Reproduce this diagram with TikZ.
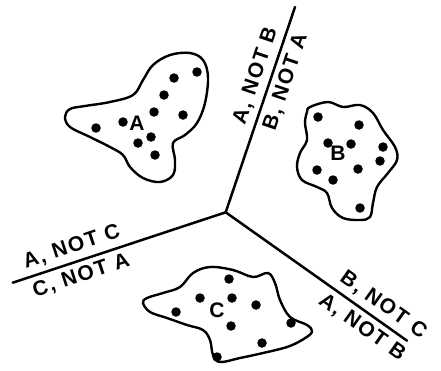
\documentclass[tikz,border=0pt]{standalone}
\usepackage{fontspec}
\setmainfont{Liberation Sans}
\newfontfamily\regionfont[LetterSpace=8]{Liberation Sans}
\usetikzlibrary{calc}
\tikzset{
    divider/.style={line width=2.5pt, line cap=round},
    blob/.style={line width=2.4pt, line join=round},
    dot/.style={circle, fill=black, inner sep=0pt, minimum size=9.5pt},
    region/.style={font=\regionfont\bfseries\fontsize{21}{21}\selectfont, sloped, inner sep=5pt},
    blobname/.style={font=\bfseries\fontsize{21}{21}\selectfont, inner sep=0pt}
}
\begin{document}
\begin{tikzpicture}[x=1pt, y=-1pt]
            \useasboundingbox (0,0) rectangle (441,370);

            \coordinate (hub) at (225.7,212.3);
            \coordinate (north) at (295,7);
            \coordinate (west) at (12.7,282.7);
            \coordinate (east) at (407,340.7);

            \draw[divider] (hub) -- node[region, above, pos=0.64] (ab) {A, NOT B}
                                    node[region, below, pos=0.66] (ba) {B, NOT A} (north);
            \draw[divider] (west) -- node[region, above, pos=0.30] (ac) {A, NOT C}
                                     node[region, below, pos=0.30] (ca) {C, NOT A} (hub);
            \draw[divider] (hub) -- node[region, above, pos=0.82] (bc) {B, NOT C}
                                    node[region, below, pos=0.80] (ab2) {A, NOT B} (east);

            % cluster A
            \draw[blob] plot[smooth cycle, tension=0.6] coordinates {
                (65,117) (70,109) (85,106) (110,102) (133,95) (143,80) (153,65)
                (170,55) (190,53) (203,60) (208,77) (205,103) (197,123) (185,135)
                (173,143) (175,160) (173,175) (160,182) (143,178) (130,167)
                (123,155) (110,147) (90,137) (70,127)};
            \foreach \p [count=\i] in {(197,72),(174,78),(164,95),(183,115),(154,112),
                                       (123,122),(96,128),(151,137),(138,143),(155,155)}
                \node[dot] (a\i) at \p {};
            \node[blobname] (nameA) at (137,123) {A};

            % cluster B
            \draw[blob] plot[smooth cycle, tension=0.6] coordinates {
                (310,107) (328,102) (343,107) (360,105) (373,113) (383,130)
                (395,147) (397,160) (388,173) (377,187) (373,203) (370,217)
                (360,220) (343,218) (332,208) (327,193) (317,187) (302,180)
                (297,167) (300,153) (307,140) (305,123) (307,112)};
            \foreach \p [count=\i] in {(318,117),(359,125),(328,143),(351,144),(383,147),
                                       (380,161),(317,170),(358,169),(333,180),(360,208)}
                \node[dot] (b\i) at \p {};
            \node[blobname] (nameB) at (338,153) {B};

            % cluster C
            \draw[blob] plot[smooth cycle, tension=0.6] coordinates {
                (143,303) (147,298) (163,293) (180,287) (193,273) (210,267)
                (233,270) (253,277) (268,273) (275,283) (280,300) (290,317)
                (307,325) (312,332) (302,340) (287,347) (263,353) (240,358)
                (220,362) (213,355) (210,340) (203,330) (187,325) (167,318) (150,312)};
            \foreach \p [count=\i] in {(229,279),(200,298),(232,298),(256,305),(176,312),
                                       (231,326),(291,323),(262,343),(217,357)}
                \node[dot] (c\i) at \p {};
            \node[blobname] (nameC) at (217,310) {C};
        \end{tikzpicture}
\end{document}
